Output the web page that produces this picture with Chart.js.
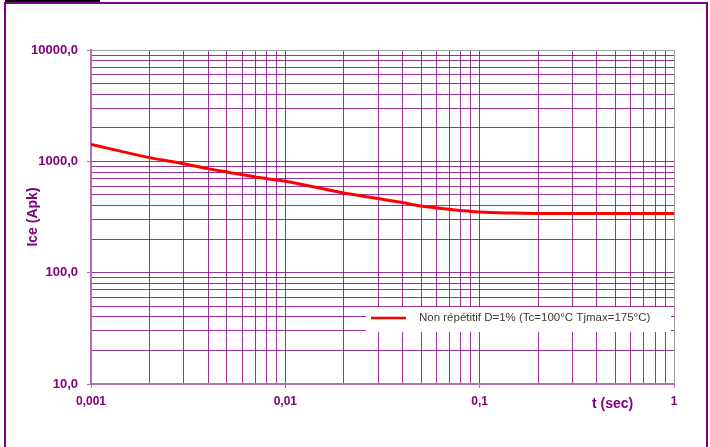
<!DOCTYPE html>
<html>
<head>
<meta charset="utf-8">
<script src="https://cdn.jsdelivr.net/npm/chart.js@4.4.0/dist/chart.umd.min.js"></script>
<style>
html, body { margin: 0; padding: 0; background: #fff; }
#wrap { position: relative; width: 710px; height: 447px; overflow: hidden; }
#chart { position: absolute; left: 0; top: 0; }
#frame { position: absolute; left: 4px; top: 2px; width: 700px; height: 470px; border: 2px solid #800080; }
#bar { position: absolute; left: 5px; top: 0; width: 95px; height: 2px; background: #000; }
</style>
</head>
<body>
<div id="wrap">
  <canvas id="chart" width="710" height="447"></canvas>
  <div id="frame"></div>
  <div id="bar"></div>
</div>
<script>
// Pulse time (s) and peak collector current (A)
const times   = [0.001, 0.002, 0.003, 0.004, 0.005, 0.007, 0.01, 0.02, 0.03, 0.04, 0.05, 0.07, 0.1, 0.15, 0.2, 0.5, 1];
const current = [1420, 1080, 953, 860, 802, 723, 662, 520, 463, 426, 397, 371, 351, 343, 340, 340, 340];

const seriesLabel = 'Non répétitif D=1% (Tc=100°C Tjmax=175°C)';

// Axis ranges and decade labels
const xDecades = [0.001, 0.01, 0.1, 1];
const xTickLabels = ['0,001', '0,01', '0,1', '1'];
const yDecades = [10, 100, 1000, 10000];
const yTickLabels = ['10,0', '100,0', '1000,0', '10000,0'];

const purple = '#800080';
const gridColor = 'rgba(128, 0, 128, 0.8)';

// 1..9 x each decade, for the log grid lines
function logTicks(decades) {
    const out = [];
    for (let i = 0; i < decades.length - 1; i++) {
        for (let m = 1; m < 10; m++) {
            out.push({ value: m * decades[i], major: m === 1 });
        }
    }
    out.push({ value: decades[decades.length - 1], major: true });
    return out;
}

function labelFor(value, decades, labels) {
    for (let i = 0; i < decades.length; i++) {
        if (Math.abs(value / decades[i] - 1) < 1e-6) return labels[i];
    }
    return '';
}

const overlay = {
    id: 'overlay',
    afterDatasetsDraw(chart) {
        const ctx = chart.ctx;
        const a = chart.chartArea;
        ctx.save();

        // grey top/right border of the plot
        ctx.strokeStyle = '#a0a0a0';
        ctx.lineWidth = 1;
        ctx.beginPath();
        ctx.moveTo(a.left, a.top + 0.5);
        ctx.lineTo(a.right + 0.5, a.top + 0.5);
        ctx.lineTo(a.right + 0.5, a.bottom);
        ctx.stroke();

        // legend box inside the plot
        const lx = a.left + 275, ly = a.bottom - 77;
        const lw = a.right - 3 - lx, lh = 25;
        ctx.fillStyle = '#fff';
        ctx.fillRect(lx, ly, lw, lh);
        ctx.strokeStyle = '#ff0000';
        ctx.lineWidth = 2.5;
        ctx.beginPath();
        ctx.moveTo(lx + 5, ly + 11);
        ctx.lineTo(lx + 40, ly + 11);
        ctx.stroke();
        ctx.fillStyle = '#403830';
        ctx.font = '11.5px "Liberation Sans", Arial, sans-serif';
        ctx.textBaseline = 'middle';
        ctx.textAlign = 'left';
        ctx.fillText(seriesLabel, lx + 53, ly + 11);

        // axis titles
        ctx.fillStyle = purple;
        ctx.font = 'bold 14px "Liberation Sans", Arial, sans-serif';
        ctx.textAlign = 'left';
        ctx.fillText('t (sec)', a.right - 82, a.bottom + 20);

        ctx.translate(33, (a.top + a.bottom) / 2);
        ctx.rotate(-Math.PI / 2);
        ctx.textAlign = 'center';
        ctx.fillText('Ice (Apk)', 0, 0);
        ctx.restore();
    }
};

const ctx = document.getElementById('chart').getContext('2d');
const chart = new Chart(ctx, {
    type: 'line',
    data: {
        datasets: [{
            label: seriesLabel,
            data: times.map((t, i) => ({ x: t, y: current[i] })),
            borderColor: '#ff0000',
            borderWidth: 3,
            pointRadius: 0,
            cubicInterpolationMode: 'monotone',
            fill: false
        }]
    },
    options: {
        responsive: false,
        animation: false,
        layout: { padding: { top: 50, right: 36, left: 0, bottom: 0 } },
        plugins: {
            legend: { display: false },
            tooltip: { enabled: false }
        },
        scales: {
            x: {
                type: 'logarithmic',
                min: xDecades[0],
                max: xDecades[xDecades.length - 1],
                afterBuildTicks: s => { s.ticks = logTicks(xDecades); },
                afterFit: s => { s.height = 63; },
                border: { color: '#b070b0', width: 2 },
                grid: {
                    color: gridColor,
                    lineWidth: 1,
                    tickLength: 4,
                    tickColor: c => (c.tick && c.tick.major ? '#b070b0' : 'rgba(0,0,0,0)')
                },
                ticks: {
                    autoSkip: false,
                    maxRotation: 0,
                    padding: 6,
                    color: purple,
                    font: { family: '"Liberation Sans", Arial, sans-serif', size: 12, weight: 'bold' },
                    callback: v => labelFor(v, xDecades, xTickLabels)
                }
            },
            y: {
                type: 'logarithmic',
                min: yDecades[0],
                max: yDecades[yDecades.length - 1],
                afterBuildTicks: s => { s.ticks = logTicks(yDecades); },
                afterFit: s => { s.width = 91; },
                border: { color: '#b070b0', width: 2 },
                grid: {
                    color: gridColor,
                    lineWidth: 1,
                    tickLength: 4,
                    tickColor: c => (c.tick && c.tick.major ? '#b070b0' : 'rgba(0,0,0,0)')
                },
                ticks: {
                    autoSkip: false,
                    padding: 9,
                    color: purple,
                    font: { family: '"Liberation Sans", Arial, sans-serif', size: 13, weight: 'bold' },
                    callback: v => labelFor(v, yDecades, yTickLabels)
                }
            }
        }
    },
    plugins: [overlay]
});
</script>
</body>
</html>
